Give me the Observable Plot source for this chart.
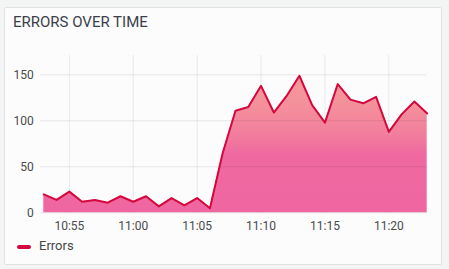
<!DOCTYPE html>
<html>
<head>
<meta charset="utf-8">
<script src="https://cdn.jsdelivr.net/npm/d3@7"></script>
<script src="https://cdn.jsdelivr.net/npm/@observablehq/plot@0.6"></script>
<style>
  html, body { margin: 0; padding: 0; background: #f3f4f4; }
  #wrap { position: relative; width: 449px; height: 269px; overflow: hidden; font-family: Roboto, sans-serif; }
  #panel { position: absolute; left: 4px; top: 7px; width: 438px; height: 258px; box-sizing: border-box;
           border: 1px solid #e2e2e2; background: #fcfcfc; border-radius: 2px; }
  #title { position: absolute; left: 13px; top: 15px; font-size: 15px; line-height: 15px; color: #3b3f4b; white-space: nowrap; }
  #chart { position: absolute; left: 0; top: 0; }
  #legend { position: absolute; left: 17px; top: 239px; height: 15px; }
  #legend .sw { position: absolute; left: 0; top: 6px; width: 14px; height: 3.5px; border-radius: 2px; background: #d5083d; }
  #legend .lb { position: absolute; left: 22px; top: 0; font-size: 13px; line-height: 13px; color: #474747; white-space: nowrap; }
</style>
</head>
<body>
<div id="wrap">
  <div id="panel"></div>
  <div id="title">ERRORS OVER TIME</div>
  <div id="chart"></div>
  <div id="legend"><div class="sw"></div><div class="lb">Errors</div></div>
</div>
<script>
const times = ["10:53","10:54","10:55","10:56","10:57","10:58","10:59","11:00","11:01","11:02","11:03","11:04","11:05","11:06","11:07","11:08","11:09","11:10","11:11","11:12","11:13","11:14","11:15","11:16","11:17","11:18","11:19","11:20","11:21","11:22","11:23"];
const errors = [20, 14, 23, 12, 14, 11, 18, 12, 18, 7, 16, 8, 16, 5, 65, 111, 115, 138, 109, 127, 149, 117, 98, 140, 123, 119, 126, 88, 107, 121, 108];
const xTickLabels = ["10:55","11:00","11:05","11:10","11:15","11:20"];
const yTicks = [0, 50, 100, 150];
const seriesName = "Errors";

const toDate = s => { const [h, m] = s.split(":").map(Number); return new Date(Date.UTC(2024, 0, 1, h, m)); };
const data = times.map((t, i) => ({ time: toDate(t), value: errors[i], series: seriesName }));
const xTicks = xTickLabels.map(toDate);
const fmt = d3.utcFormat("%H:%M");

const plot = Plot.plot({
  width: 449,
  height: 235,
  marginLeft: 43.3,
  marginRight: 22.3,
  marginTop: 55,
  marginBottom: 22.7,
  style: { fontFamily: "Roboto, sans-serif", fontSize: "12px", color: "#4a4a4a", background: "transparent", overflow: "visible" },
  x: { type: "utc", domain: [toDate(times[0]), toDate(times[times.length - 1])], ticks: xTicks, tickFormat: fmt, tickSize: 0, tickPadding: 9, label: null },
  y: { domain: [0, 171], ticks: yTicks, tickSize: 0, tickPadding: 10, label: null },
  marks: [
    Plot.ruleX(xTicks, { stroke: "#000", strokeOpacity: 0.08, strokeWidth: 1 }),
    Plot.areaY(data, { x: "time", y: "value", fill: "url(#errGrad)" }),
    Plot.ruleY(yTicks, { stroke: "#000", strokeOpacity: 0.09, strokeWidth: 1, insetLeft: -3 }),
    Plot.lineY(data, { x: "time", y: "value", stroke: "#d5083d", strokeWidth: 2 })
  ]
});

const ys = plot.scale("y");
const svg = d3.select(plot);
const grad = svg.insert("defs", ":first-child").append("linearGradient")
  .attr("id", "errGrad").attr("gradientUnits", "userSpaceOnUse")
  .attr("x1", 0).attr("x2", 0).attr("y1", ys.apply(150)).attr("y2", ys.apply(0));
[[0, "#f59a9a"], [0.22, "#f4909b"], [0.43, "#f27e9d"], [0.58, "#ef69a0"], [1, "#ef66a0"]].forEach(([o, c]) => {
  grad.append("stop").attr("offset", o).attr("stop-color", c);
});

document.getElementById("chart").appendChild(plot);
</script>
</body>
</html>
